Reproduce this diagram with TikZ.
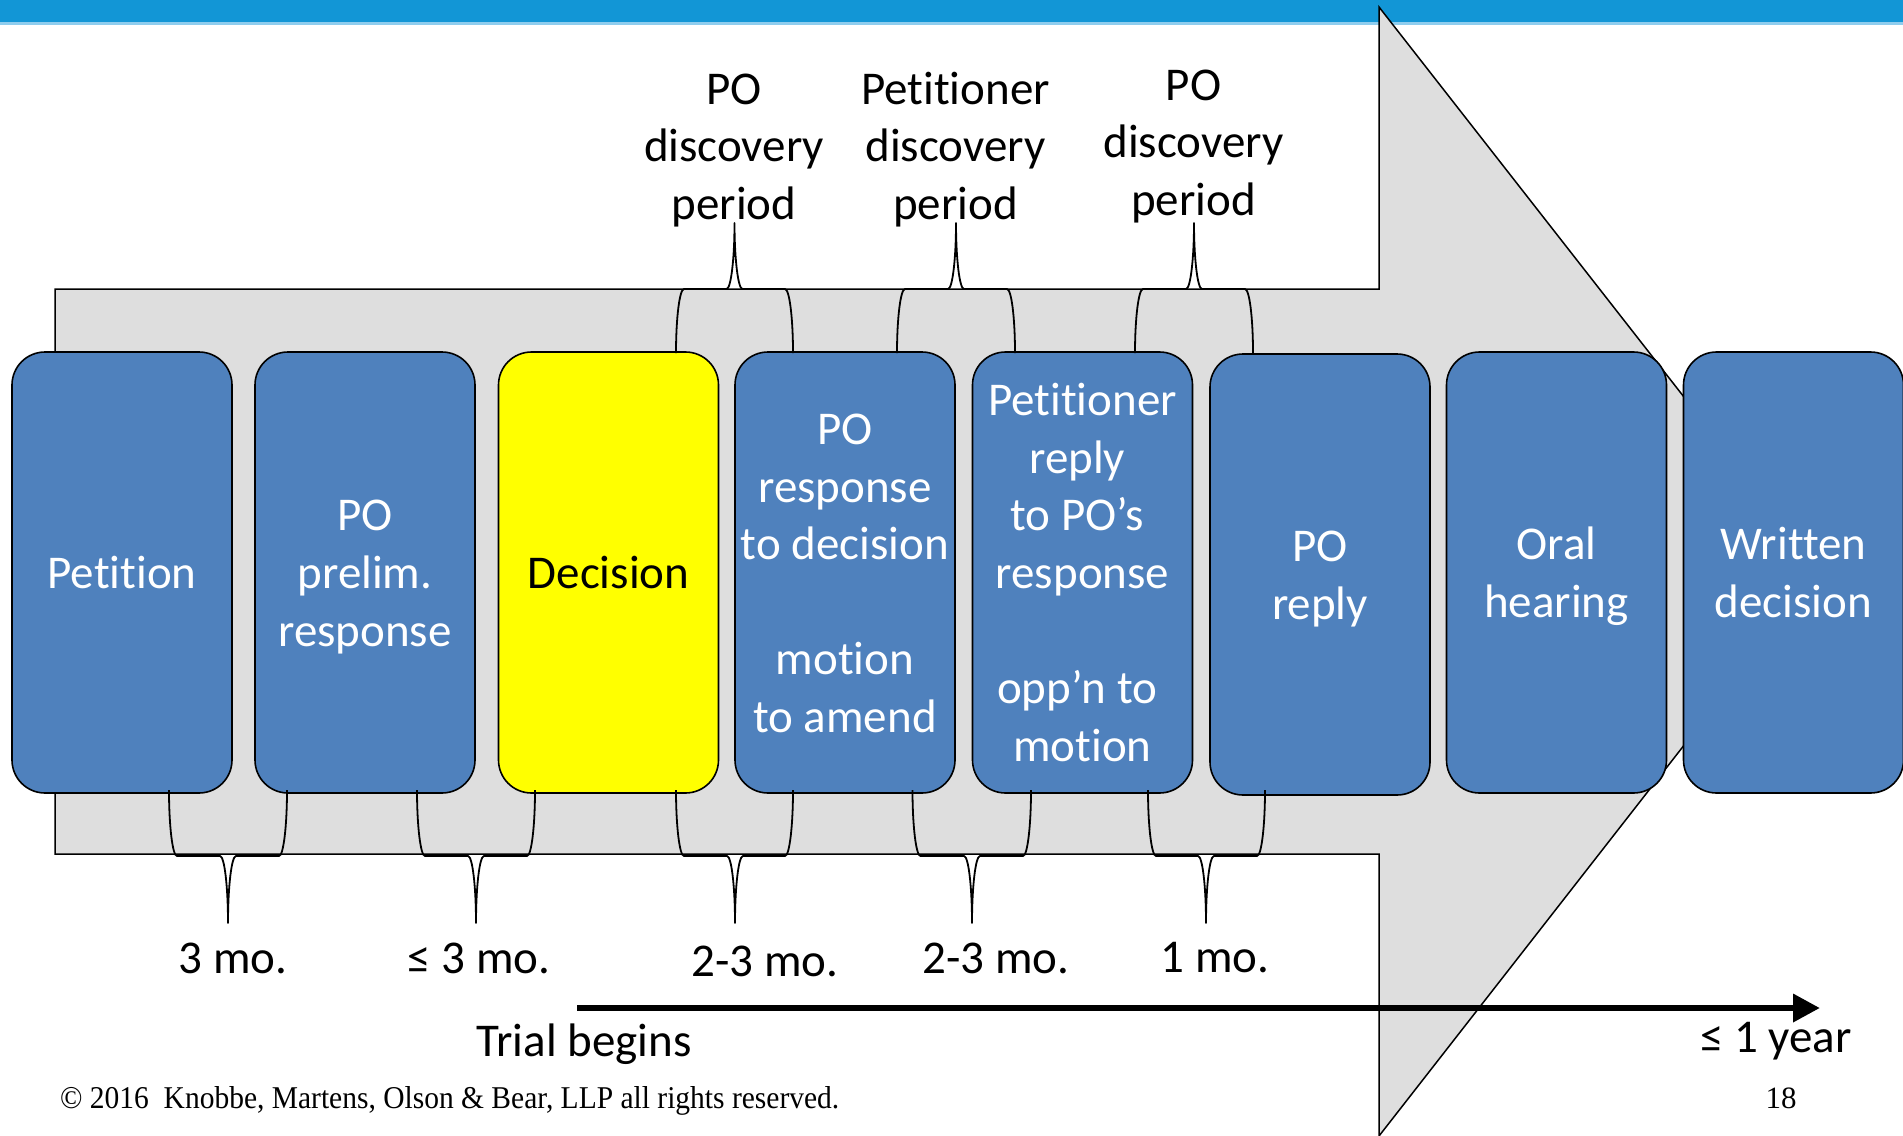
\documentclass[tikz,border=0pt]{standalone}
\usepackage{fontspec}
\setmainfont{Carlito}[Ligatures=NoCommon]
\newfontfamily\cpyfont{Liberation Serif}
\usepackage{graphicx}
\usetikzlibrary{arrows.meta}
\definecolor{topblue}{HTML}{1296D6}
\definecolor{toplight}{HTML}{8FCDEE}
\definecolor{arrowgray}{HTML}{DEDEDE}
\definecolor{boxblue}{HTML}{4F81BD}
\definecolor{boxyellow}{HTML}{FFFF00}
\newcommand\mystrut{\rule[-12.85pt]{0pt}{57.6pt}}
% #1 xL, #2 xR, #3 xc, #4 y ends, #5 y middle line, #6 y tip
\newcommand\mybrace[6]{%
  \draw[bracestyle] (#1,#4) .. controls (#1,{#4+0.552*(#5-#4)}) and ({#1+3.6},#5) .. ({#1+8},#5)
    -- ({#3-8},#5) .. controls ({#3-3.6},#5) and (#3,{#6+0.552*(#5-#6)}) .. (#3,#6)
    .. controls (#3,{#6+0.552*(#5-#6)}) and ({#3+3.6},#5) .. ({#3+8},#5)
    -- ({#2-8},#5) .. controls ({#2-3.6},#5) and (#2,{#4+0.552*(#5-#4)}) .. (#2,#4);}
\begin{document}
\begin{tikzpicture}[x=1pt,y=-1pt,
  boxstyle/.style={rectangle, rounded corners=33pt, draw=black, line width=1.6pt,
    fill=boxblue, text=white, font=\fontsize{47}{57.6}\selectfont, align=center,
    inner sep=0pt, minimum width=220pt, minimum height=441pt},
  toplbl/.style={font=\fontsize{47}{57.6}\selectfont, text=black, align=center,
    inner sep=0pt},
  lbl/.style={font=\fontsize{47}{57.6}\selectfont, text=black, inner sep=0pt, anchor=base},
  bracestyle/.style={draw=black, line width=1.8pt, line join=round},
  arrowshape/.style={fill=arrowgray, draw=black, line width=1.5pt, line join=miter},
  timeline/.style={line width=6.5pt, -{Triangle[length=27pt,width=27pt]}}
]
\useasboundingbox (0,0) rectangle (1903,1135);
\fill[white] (0,0) rectangle (1903,1135);
% top bar
\fill[topblue] (0,0) rectangle (1903,22);
\fill[toplight] (0,22) rectangle (1903,25);
% big grey arrow
\draw[arrowshape] (55,289) -- (1379,289) -- (1379,7) -- (1820,571) -- (1379,1136)
  -- (1379,854) -- (55,854) -- cycle;
% boxes
\node[boxstyle] (b1) at (122,572.5) {\mystrut Petition};
\node[boxstyle] (b2) at (365,572.5) {\mystrut PO\\prelim.\\response\mystrut};
\node[boxstyle, fill=boxyellow, text=black] (b3) at (608.5,572.5) {\mystrut Decision};
\node[boxstyle] (b4) at (845,572.5) {\mystrut PO\\response\\to decision\\[57.6pt]motion\\to amend\mystrut};
\node[boxstyle] (b5) at (1082.5,572.5) {\mystrut Petitioner\\reply\kern10.6pt\\to PO’s\kern10.6pt\\response\\[57.6pt]opp’n to\kern10.6pt\\motion\mystrut};
\node[boxstyle] (b6) at (1320,574.5) {\mystrut PO\\reply\mystrut};
\node[boxstyle] (b7) at (1556.5,572.5) {\mystrut Oral\\hearing\mystrut};
\node[boxstyle] (b8) at (1793.5,572.5) {\mystrut Written\\decision\mystrut};
% top braces
\mybrace{676}{793}{734.5}{353}{289}{223}
\mybrace{897}{1015}{956}{353}{289}{223}
\mybrace{1135}{1253}{1194}{353}{289}{223}
% bottom braces
\mybrace{169}{287}{228}{790}{856}{923}
\mybrace{417}{535}{476}{790}{856}{923}
\mybrace{676}{793}{735}{790}{856}{923}
\mybrace{912.5}{1031}{972}{790}{856}{923}
\mybrace{1148}{1265}{1206}{790}{856}{923}
% top labels
\node[toplbl] (t1) at (734,146) {\mystrut PO\\discovery\\period\mystrut};
\node[toplbl] (t2) at (955.5,146) {\mystrut Petitioner\\discovery\\period\mystrut};
\node[toplbl] (t3) at (1193.5,142) {\mystrut PO\\discovery\\period\mystrut};
% bottom labels
\node[lbl] (d1) at (233,973) {3 mo.};
\node[lbl] (d2) at (479,973) {≤ 3 mo.};
\node[lbl] (d3) at (765,976) {2-3 mo.};
\node[lbl] (d4) at (996,973) {2-3 mo.};
\node[lbl] (d5) at (1215,972) {1 mo.};
% timeline
\coordinate (tl0) at (577,1008);
\coordinate (tl1) at (1820,1008);
\draw[timeline] (tl0) -- (tl1);
\node[lbl] (trial) at (584,1056) {Trial begins};
\node[lbl] (year) at (1776,1052) {≤ 1 year};
% footer
\node[anchor=base west, inner sep=0pt] (copy) at (60,1108)
  {\resizebox{779pt}{22pt}{\cpyfont © 2016~~Knobbe, Martens, Olson \& Bear, LLP all rights reserved.}};
\node[anchor=base, inner sep=0pt, font=\cpyfont\fontsize{31}{36}\selectfont] (pg) at (1781,1108) {18};
\end{tikzpicture}
\end{document}
